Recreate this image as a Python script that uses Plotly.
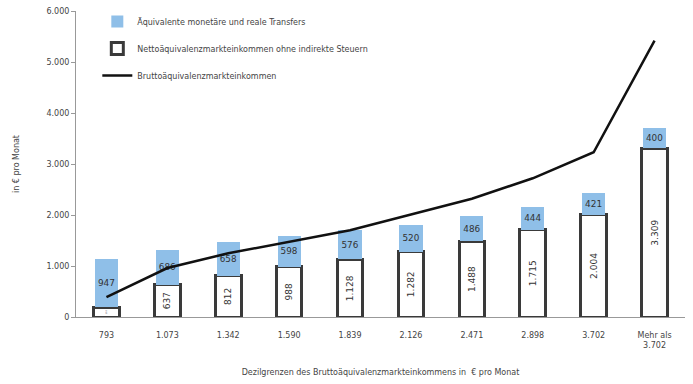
import plotly.graph_objects as go

categories = ["793", "1.073", "1.342", "1.590", "1.839", "2.126", "2.471", "2.898", "3.702", "Mehr als<br>3.702"]
netto = [193, 637, 812, 988, 1128, 1282, 1488, 1715, 2004, 3309]
transfers = [947, 686, 658, 598, 576, 520, 486, 444, 421, 400]
brutto = [390, 960, 1250, 1470, 1700, 2010, 2320, 2720, 3230, 5420]

def fmt(v):
    return f"{v:,}".replace(",", ".")

fig = go.Figure()
fig.add_trace(go.Bar(
    x=categories, y=netto, name="Nettoäquivalenzmarkteinkommen ohne indirekte Steuern",
    marker=dict(color="white", line=dict(color="#3a3a3a", width=3)),
    text=[fmt(v) for v in netto], textposition="inside", textangle=-90,
    insidetextanchor="middle", textfont=dict(size=9, color="#333"),
    legendrank=2, legendgroup="b", width=0.42,
))
fig.add_trace(go.Bar(
    x=categories, y=transfers, name="Äquivalente monetäre und reale Transfers",
    marker=dict(color="#8fbfe8", line=dict(width=0)),
    text=[fmt(v) for v in transfers], textposition="inside", textangle=0,
    insidetextanchor="middle", textfont=dict(size=9, color="#333"),
    legendrank=1, legendgroup="a", width=0.38,
))
fig.add_trace(go.Scatter(
    x=categories, y=brutto, name="Bruttoäquivalenzmarkteinkommen", mode="lines",
    line=dict(color="#111", width=2.5), legendrank=3, legendgroup="c",
))

fig.update_layout(
    width=693, height=384, barmode="stack",
    margin=dict(l=76, r=8, t=10, b=67),
    paper_bgcolor="white", plot_bgcolor="white",
    font=dict(family="DejaVu Sans", size=8, color="#444"),
    separators=",.",
    showlegend=True,
    legend=dict(x=0.035, y=1.01, xanchor="left", yanchor="top", bgcolor="rgba(0,0,0,0)",
                font=dict(size=8, color="#444"), traceorder="grouped", tracegroupgap=8),
    xaxis=dict(showline=True, linecolor="#999", linewidth=1, ticks="", showgrid=False,
               ticklabelstandoff=10, automargin=False,
               title=dict(text="Dezilgrenzen des Bruttoäquivalenzmarkteinkommens in  € pro Monat",
                          font=dict(size=8, color="#444"), standoff=20),
               tickfont=dict(size=8)),
    yaxis=dict(range=[0, 6000], dtick=1000, tickformat=",d", showline=True, linecolor="#999",
               linewidth=1, ticks="outside", ticklen=4, tickcolor="#999", showgrid=False,
               zeroline=False, automargin=False,
               title=dict(text="in € pro Monat", font=dict(size=8, color="#444"), standoff=25),
               tickfont=dict(size=8)),
)

fig.write_html("out.html")
